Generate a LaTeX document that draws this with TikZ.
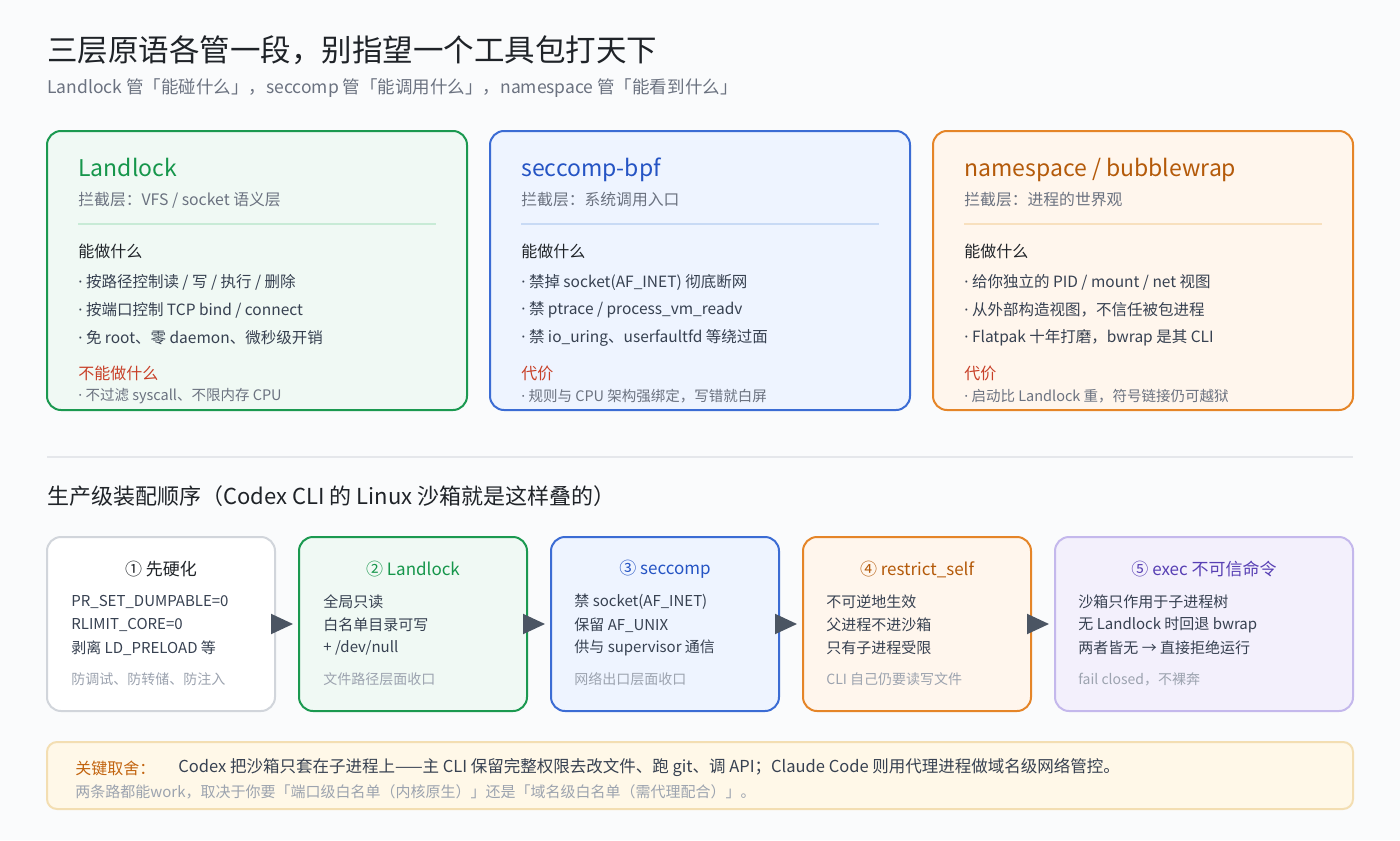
\documentclass[tikz,border=0pt]{standalone}
\usepackage{fontspec}
\setmainfont{Noto Sans CJK SC}
\newfontfamily\dotfont{Noto Sans}
\newcommand\bul{{\dotfont ·}\ }
\usetikzlibrary{arrows.meta}
\definecolor{bg}{RGB}{250,251,252}
\definecolor{ink}{RGB}{31,35,40}
\definecolor{body}{RGB}{55,65,81}
\definecolor{muted}{RGB}{107,114,128}
\definecolor{faint}{RGB}{156,163,175}
\definecolor{rule}{RGB}{229,231,235}
\definecolor{warn}{RGB}{200,64,40}
\definecolor{lkline}{RGB}{27,153,80}
\definecolor{lkfill}{RGB}{240,249,244}
\definecolor{lkrule}{RGB}{200,235,214}
\definecolor{lktext}{RGB}{22,150,75}
\definecolor{scline}{RGB}{59,108,212}
\definecolor{scfill}{RGB}{238,244,255}
\definecolor{scrule}{RGB}{200,218,245}
\definecolor{sctext}{RGB}{37,84,196}
\definecolor{nsline}{RGB}{229,133,40}
\definecolor{nsfill}{RGB}{255,246,237}
\definecolor{nsrule}{RGB}{248,224,190}
\definecolor{nstext}{RGB}{180,90,10}
\definecolor{hdline}{RGB}{209,213,219}
\definecolor{plline}{RGB}{196,184,236}
\definecolor{plfill}{RGB}{243,240,252}
\definecolor{pltext}{RGB}{88,64,180}
\definecolor{arrowc}{RGB}{75,85,99}
\definecolor{kyfill}{RGB}{255,248,232}
\definecolor{kyline}{RGB}{243,222,178}
\definecolor{kytext}{RGB}{194,100,15}
\tikzset{
	txt/.style={anchor=west, inner sep=0pt},
	bigttl/.style={txt, text=ink, font=\fontsize{15.25pt}{18pt}\selectfont},
	subttl/.style={txt, text=muted, font=\fontsize{8.75pt}{10pt}\selectfont},
	card/.style={draw=#1, line width=1pt, rounded corners=7pt, minimum width=210pt, minimum height=139.5pt, inner sep=0pt},
	cardttl/.style={anchor=base west, inner sep=0pt, font=\fontsize{11.5pt}{13pt}\selectfont},
	cardsub/.style={txt, text=muted, font=\fontsize{7.9pt}{9pt}\selectfont},
	cando/.style={txt, text=ink, font=\fontsize{8pt}{9pt}\selectfont},
	item/.style={txt, text=body, font=\fontsize{7.75pt}{9pt}\selectfont},
	cannot/.style={txt, text=warn, font=\fontsize{8pt}{9pt}\selectfont},
	cost/.style={txt, text=muted, font=\fontsize{7.25pt}{9pt}\selectfont},
	head/.style={txt, text=ink, font=\fontsize{11pt}{12pt}\selectfont},
	stage/.style={draw=#1, line width=1pt, rounded corners=7pt, minimum width=114pt, minimum height=87pt, inner sep=0pt},
	stagettl/.style={inner sep=0pt, font=\fontsize{8.5pt}{10pt}\selectfont},
	stageln/.style={txt, text=body, font=\fontsize{7.5pt}{9pt}\selectfont},
	stagenote/.style={txt, text=faint, font=\fontsize{7pt}{8pt}\selectfont},
	flowarr/.style={draw=arrowc, fill=arrowc, line width=1pt, -{Triangle[length=11pt, width=10pt]}, shorten <=-2pt, shorten >=2.5pt},
}
\begin{document}
\begin{tikzpicture}[x=0.5pt, y=-0.5pt]
	\fill[bg] (0,0) rectangle (1400,840);
	\useasboundingbox (0,0) rectangle (1400,840);
	
	\node[bigttl] (title) at (47,50) {三层原语各管一段，别指望一个工具包打天下};
	\node[subttl] (subtitle) at (47,88) {Landlock 管「能碰什么」，seccomp 管「能调用什么」，namespace 管「能看到什么」};
	
	\node[card=lkline, fill=lkfill] (lk) at (257,270.5) {};
	\node[cardttl, text=lktext] (lkttl) at (78,176) {Landlock};
	\node[cardsub] (lksub) at (78,200) {拦截层：VFS / socket 语义层};
	\draw[lkrule, line width=1pt] (78,224) -- (436,224);
	\node[cando] (lkcan) at (78,251) {能做什么};
	\node[item] (lk1) at (78,282) {\bul 按路径控制读 / 写 / 执行 / 删除};
	\node[item] (lk2) at (78,310) {\bul 按端口控制 TCP bind / connect};
	\node[item] (lk3) at (78,338) {\bul 免 root、零 daemon、微秒级开销};
	\node[cannot] (lkno) at (78,373) {不能做什么};
	\node[cost] (lkcost) at (78,396) {\bul 不过滤 syscall、不限内存 CPU};
	
	\node[card=scline, fill=scfill] (sc) at (700,270.5) {};
	\node[cardttl, text=sctext] (scttl) at (521,176) {seccomp-bpf};
	\node[cardsub] (scsub) at (521,200) {拦截层：系统调用入口};
	\draw[scrule, line width=1pt] (521,224) -- (879,224);
	\node[cando] (sccan) at (521,251) {能做什么};
	\node[item] (sc1) at (521,282) {\bul 禁掉 socket(AF\_INET) 彻底断网};
	\node[item] (sc2) at (521,310) {\bul 禁 ptrace / process\_vm\_readv};
	\node[item] (sc3) at (521,338) {\bul 禁 io\_uring、userfaultfd 等绕过面};
	\node[cannot] (scno) at (521,373) {代价};
	\node[cost] (sccost) at (521,396) {\bul 规则与 CPU 架构强绑定，写错就白屏};
	
	\node[card=nsline, fill=nsfill] (ns) at (1143,270.5) {};
	\node[cardttl, text=nstext] (nsttl) at (964,176) {namespace / bubblewrap};
	\node[cardsub] (nssub) at (964,200) {拦截层：进程的世界观};
	\draw[nsrule, line width=1pt] (964,224) -- (1322,224);
	\node[cando] (nscan) at (964,251) {能做什么};
	\node[item] (ns1) at (964,282) {\bul 给你独立的 PID / mount / net 视图};
	\node[item] (ns2) at (964,310) {\bul 从外部构造视图，不信任被包进程};
	\node[item] (ns3) at (964,338) {\bul Flatpak 十年打磨，bwrap 是其 CLI};
	\node[cannot] (nsno) at (964,373) {代价};
	\node[cost] (nscost) at (964,396) {\bul 启动比 Landlock 重，符号链接仍可越狱};
	
	\draw[rule, line width=1pt] (47,457) -- (1353,457);
	\node[head] (order) at (47,496) {生产级装配顺序（Codex CLI 的 Linux 沙箱就是这样叠的）};
	
	\node[stage=hdline, fill=white] (s1) at (161,624) {};
	\node[stagettl, text=ink] (s1ttl) at (161,569) {① 先硬化};
	\node[stageln] (s1a) at (71,602) {PR\_SET\_DUMPABLE=0};
	\node[stageln] (s1b) at (71,625) {RLIMIT\_CORE=0};
	\node[stageln] (s1c) at (71,648) {剥离 LD\_PRELOAD 等};
	\node[stagenote] (s1n) at (71,679) {防调试、防转储、防注入};
	
	\node[stage=lkline, fill=lkfill] (s2) at (413,624) {};
	\node[stagettl, text=lktext] (s2ttl) at (413,569) {② Landlock};
	\node[stageln] (s2a) at (323,602) {全局只读};
	\node[stageln] (s2b) at (323,625) {白名单目录可写};
	\node[stageln] (s2c) at (323,648) {+ /dev/null};
	\node[stagenote] (s2n) at (323,679) {文件路径层面收口};
	
	\node[stage=scline, fill=scfill] (s3) at (665,624) {};
	\node[stagettl, text=sctext] (s3ttl) at (665,569) {③ seccomp};
	\node[stageln] (s3a) at (574,602) {禁 socket(AF\_INET)};
	\node[stageln] (s3b) at (574,625) {保留 AF\_UNIX};
	\node[stageln] (s3c) at (574,648) {供与 supervisor 通信};
	\node[stagenote] (s3n) at (574,679) {网络出口层面收口};
	
	\node[stage=nsline, fill=nsfill] (s4) at (917,624) {};
	\node[stagettl, text=nstext] (s4ttl) at (917,569) {④ restrict\_self};
	\node[stageln] (s4a) at (826,602) {不可逆地生效};
	\node[stageln] (s4b) at (826,625) {父进程不进沙箱};
	\node[stageln] (s4c) at (826,648) {只有子进程受限};
	\node[stagenote] (s4n) at (826,679) {CLI 自己仍要读写文件};
	
	\node[stage=plline, fill=plfill, minimum width=149pt] (s5) at (1204,624) {};
	\node[stagettl, text=pltext] (s5ttl) at (1204,569) {⑤ exec 不可信命令};
	\node[stageln] (s5a) at (1078,602) {沙箱只作用于子进程树};
	\node[stageln] (s5b) at (1078,625) {无 Landlock 时回退 bwrap};
	\node[stageln] (s5c) at (1078,648) {两者皆无 → 直接拒绝运行};
	\node[stagenote] (s5n) at (1078,679) {fail closed，不裸奔};
	
	\draw[flowarr] (s1) -- (s2);
	\draw[flowarr] (s2) -- (s3);
	\draw[flowarr] (s3) -- (s4);
	\draw[flowarr] (s4) -- (s5);
	
	\node[draw=kyline, fill=kyfill, line width=1pt, rounded corners=5pt, minimum width=653pt, minimum height=33.5pt, inner sep=0pt] (key) at (700,775.5) {};
	\node[txt, text=kytext, font=\fontsize{8pt}{9pt}\selectfont] (keyttl) at (75,768) {关键取舍：};
	\node[txt, text=body, font=\fontsize{8.25pt}{9pt}\selectfont] (keytxt) at (178,768) {Codex 把沙箱只套在子进程上——主 CLI 保留完整权限去改文件、跑 git、调 API；Claude Code 则用代理进程做域名级网络管控。};
	\node[txt, text=faint, font=\fontsize{7.5pt}{9pt}\selectfont] (keysub) at (75,792) {两条路都能work，取决于你要「端口级白名单（内核原生）」还是「域名级白名单（需代理配合）」。};
\end{tikzpicture}
\end{document}
